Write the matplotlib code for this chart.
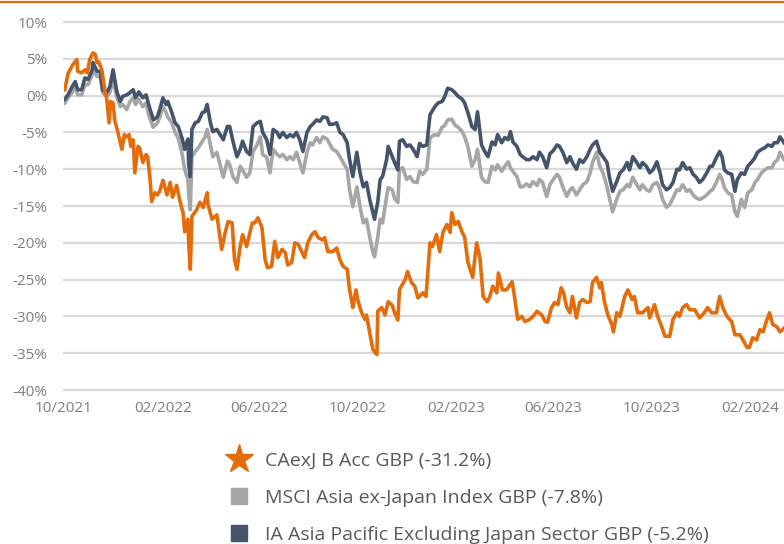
import numpy as np
import pandas as pd
import matplotlib
matplotlib.use("Agg")
import matplotlib.pyplot as plt
import matplotlib.dates as mdates
from matplotlib.lines import Line2D
from matplotlib.ticker import FuncFormatter

plt.rcParams['font.family'] = ['Open Sans', 'DejaVu Sans']

start = pd.Timestamp('2021-10-01')

# fund series (days since start, cumulative % return)
fund_days = [1, 5, 11, 16, 17, 22, 26, 29, 32, 36, 39, 41, 43, 47, 51, 53, 56, 58, 61, 63,
             67, 72, 75, 78, 81, 83, 86, 88, 92, 94, 98, 102, 104, 107, 109, 113, 116, 119, 123, 128,
             132, 135, 140, 144, 148, 150, 154, 155, 157, 159, 165, 169, 173, 178, 179, 184, 190, 196, 200, 204,
             209, 212, 215, 219, 222, 227, 234, 237, 241, 246, 250, 253, 258, 262, 266, 271, 275, 278, 283, 287,
             291, 296, 299, 303, 308, 312, 316, 321, 324, 328, 334, 339, 343, 347, 352, 355, 358, 359, 363, 365,
             370, 374, 376, 380, 384, 389, 390, 395, 399, 403, 408, 411, 415, 417, 424, 427, 432, 436, 440, 446,
             450, 455, 458, 463, 467, 471, 476, 480, 482, 486, 490, 495, 498, 502, 508, 513, 517, 521, 526, 529,
             533, 538, 540, 545, 550, 557, 560, 564, 569, 573, 579, 583, 588, 594, 598, 601, 606, 610, 614, 618,
             621, 625, 629, 632, 637, 641, 645, 650, 654, 657, 662, 666, 668, 672, 676, 681, 683, 687, 691, 697,
             701, 706, 709, 713, 719, 726, 728, 734, 738, 743, 747, 753, 757, 762, 765, 769, 774, 778, 784, 790,
             796, 800, 805, 811, 815, 819, 824, 830, 834, 840, 844, 849, 852, 856, 861, 865, 869, 873, 877, 881,
             886, 890, 895]
fund = [0.8, 3.0, 4.2, 4.9, 3.3, 3.1, 3.5, 3.1, 4.9, 5.8, 5.6, 4.5, 4.6, 3.5, 0.5, -0.3, -3.7, -0.8, -1.0, -3.3,
        -5.0, -7.3, -5.3, -5.6, -5.3, -6.9, -6.0, -10.5, -6.9, -7.1, -9.1, -8.0, -8.3, -11.4, -14.4, -13.2, -13.5, -13.0, -11.5, -13.5,
        -11.8, -13.8, -12.2, -14.3, -15.9, -18.5, -16.8, -20.0, -23.6, -16.4, -15.5, -14.5, -15.2, -13.2, -14.8, -16.8, -16.2, -20.9, -18.8, -17.1,
        -17.3, -22.3, -23.6, -20.5, -18.9, -20.5, -17.3, -17.3, -16.6, -17.9, -22.3, -23.4, -23.2, -19.8, -22.0, -20.9, -21.3, -23.0, -22.7, -20.0,
        -20.2, -21.3, -22.0, -20.0, -18.9, -18.5, -19.3, -19.6, -19.3, -21.2, -21.2, -20.7, -22.3, -23.2, -23.6, -26.4, -28.1, -28.8, -26.4, -27.7,
        -29.5, -30.4, -29.8, -32.2, -34.5, -35.2, -29.3, -28.8, -29.8, -28.0, -28.5, -29.5, -30.5, -26.4, -25.0, -23.9, -25.4, -25.9, -27.5, -26.8,
        -27.3, -20.0, -20.5, -18.9, -21.2, -18.6, -17.5, -18.6, -15.9, -17.5, -17.1, -18.6, -19.2, -22.6, -24.7, -20.0, -22.0, -27.3, -28.0, -27.4,
        -25.9, -26.8, -24.1, -26.4, -26.4, -25.3, -27.3, -30.4, -30.0, -30.7, -30.4, -30.0, -29.3, -29.8, -30.7, -30.8, -28.8, -28.1, -28.4, -26.1,
        -26.8, -28.8, -29.5, -27.3, -30.2, -28.1, -27.7, -28.1, -28.0, -25.4, -24.7, -26.1, -25.4, -28.1, -29.8, -31.1, -32.1, -29.5, -30.0, -27.3,
        -26.4, -27.7, -27.3, -29.5, -29.5, -28.8, -30.2, -28.4, -30.0, -31.4, -32.7, -32.7, -30.4, -29.5, -30.0, -28.8, -28.4, -29.1, -29.1, -30.2,
        -29.5, -28.8, -29.5, -29.5, -27.3, -28.8, -30.0, -30.7, -32.5, -32.5, -33.2, -34.2, -34.2, -32.9, -33.2, -31.8, -32.1, -30.7, -29.5, -31.1,
        -31.4, -32.1, -31.6]

# index and sector series share these dates
bench_days = [1, 5, 10, 14, 17, 22, 26, 30, 35, 36, 41, 45, 48, 53, 57, 61, 63, 66, 70, 73,
              78, 82, 86, 89, 93, 98, 102, 106, 111, 116, 119, 123, 127, 129, 134, 138, 142, 147, 150, 154,
              155, 157, 159, 163, 167, 172, 175, 178, 182, 185, 190, 194, 198, 203, 206, 210, 215, 219, 222, 227,
              231, 235, 240, 244, 247, 252, 256, 260, 265, 268, 272, 277, 281, 285, 289, 293, 297, 302, 306, 309,
              314, 318, 322, 327, 330, 334, 339, 343, 347, 352, 355, 359, 364, 368, 372, 376, 380, 384, 386, 390,
              393, 396, 401, 403, 408, 411, 415, 417, 421, 426, 430, 434, 439, 442, 446, 451, 455, 461, 465, 470,
              473, 477, 482, 486, 490, 495, 498, 502, 507, 511, 514, 519, 523, 527, 532, 536, 539, 544, 548, 552,
              555, 558, 563, 567, 570, 575, 579, 583, 588, 591, 595, 600, 604, 608, 613, 616, 620, 625, 629, 632,
              637, 641, 645, 650, 654, 657, 662, 666, 670, 675, 678, 682, 687, 691, 695, 700, 703, 707, 712, 716,
              719, 724, 728, 732, 737, 741, 744, 749, 753, 757, 762, 765, 769, 774, 778, 782, 786, 790, 794, 799,
              803, 806, 811, 815, 818, 821, 825, 830, 834, 837, 842, 846, 850, 855, 859, 862, 867, 871, 875, 880,
              883, 887, 890, 895]
sector = [-0.5, 0.1, 1.2, 1.9, 0.8, 0.8, 2.4, 2.2, 3.5, 4.5, 3.3, 3.3, 0.8, 0.4, 1.2, 3.5, 2.2, 0.4, -0.8, -0.1,
          0.1, 0.4, 0.8, -0.3, 0.5, -0.3, 0.1, -1.5, -3.3, -2.9, -1.9, -0.3, -1.2, -0.8, -2.3, -3.7, -4.2, -5.9, -7.3, -5.9,
          -9.4, -11.0, -4.6, -3.7, -3.5, -2.3, -2.2, -1.2, -3.7, -4.9, -4.6, -5.3, -6.0, -4.2, -4.2, -6.2, -8.3, -7.3, -6.2, -7.6,
          -8.0, -4.2, -3.7, -3.5, -5.0, -6.0, -8.0, -4.6, -5.0, -5.7, -5.0, -5.7, -5.3, -5.6, -5.0, -6.0, -7.6, -5.0, -4.2, -3.9,
          -3.3, -3.5, -2.9, -3.0, -3.9, -3.9, -3.7, -5.0, -5.3, -6.4, -8.7, -11.0, -7.7, -10.5, -12.4, -11.8, -14.1, -15.9, -16.8, -14.5,
          -11.4, -11.0, -8.7, -6.9, -8.3, -9.1, -10.1, -6.2, -6.0, -6.9, -6.7, -7.3, -8.3, -6.5, -6.9, -6.7, -2.6, -1.5, -1.0, -0.8,
          -0.2, 1.0, 0.8, 0.4, -0.1, -0.5, -1.0, -2.3, -4.2, -4.6, -2.2, -6.7, -7.6, -8.3, -6.3, -6.7, -5.3, -6.4, -5.7, -6.0,
          -4.9, -6.3, -6.9, -8.0, -8.3, -8.7, -8.7, -8.3, -8.7, -7.7, -8.3, -9.8, -7.9, -7.5, -6.7, -6.9, -7.7, -9.1, -8.3, -9.1,
          -10.0, -8.7, -9.1, -8.3, -7.3, -6.7, -6.2, -7.7, -8.3, -9.1, -11.1, -13.0, -11.7, -10.5, -10.1, -9.1, -10.1, -8.3, -9.1, -9.8,
          -9.1, -9.6, -10.5, -10.1, -9.0, -10.5, -12.1, -12.8, -12.5, -11.8, -10.0, -10.1, -9.1, -10.0, -9.8, -10.7, -11.1, -11.8, -11.4, -10.5,
          -9.6, -9.6, -8.4, -7.6, -8.3, -10.1, -10.5, -10.7, -13.0, -11.4, -10.5, -10.7, -9.6, -9.0, -8.4, -7.7, -7.3, -7.1, -6.7, -6.9,
          -6.4, -6.4, -5.6, -6.4]
index = [-1.0, -0.3, 0.4, 1.2, 0.1, 0.1, 1.5, 1.5, 2.8, 3.8, 2.6, 2.6, 0.4, -0.1, 0.4, 2.2, 1.1, -0.3, -1.5, -1.2,
         -1.9, -0.8, -0.3, -1.2, -0.5, -1.5, -1.0, -2.9, -4.3, -3.7, -3.0, -1.5, -2.3, -2.9, -3.7, -5.0, -5.8, -8.0, -10.0, -11.4,
         -13.5, -15.5, -8.3, -7.6, -7.1, -6.2, -5.7, -4.6, -6.7, -8.3, -7.7, -9.4, -11.1, -8.9, -9.4, -11.0, -11.8, -9.6, -10.1, -11.1,
         -10.5, -7.6, -6.7, -5.6, -8.0, -8.4, -10.5, -7.3, -8.0, -8.3, -8.0, -8.7, -8.3, -8.7, -7.7, -9.1, -10.5, -7.7, -6.4, -6.7,
         -5.7, -6.4, -5.6, -5.9, -6.5, -7.3, -7.6, -8.3, -9.1, -10.0, -12.8, -15.1, -12.4, -15.1, -17.3, -16.8, -19.2, -21.3, -21.9, -19.2,
         -16.8, -17.3, -13.7, -12.5, -12.8, -14.0, -14.5, -10.0, -9.8, -11.4, -11.0, -11.7, -11.8, -10.3, -10.7, -10.0, -5.7, -5.3, -5.4, -4.3,
         -4.1, -3.3, -3.2, -4.0, -4.3, -4.9, -5.6, -6.9, -9.6, -8.7, -7.3, -11.1, -11.7, -11.8, -9.6, -10.1, -9.4, -10.3, -9.6, -9.0,
         -9.8, -10.3, -11.0, -12.4, -12.4, -12.0, -12.4, -11.7, -12.2, -11.4, -11.8, -13.7, -12.1, -11.4, -10.7, -11.1, -12.4, -13.7, -12.8, -12.5,
         -13.5, -12.8, -12.1, -11.7, -10.5, -9.1, -7.7, -9.6, -10.5, -12.4, -13.9, -15.8, -14.1, -13.0, -12.8, -12.1, -12.4, -11.1, -12.1, -12.8,
         -12.1, -12.8, -13.0, -12.1, -11.8, -12.8, -14.1, -15.2, -14.8, -13.9, -12.8, -12.9, -12.1, -13.0, -12.8, -13.5, -13.9, -14.1, -13.9, -13.5,
         -13.0, -12.8, -11.8, -10.7, -11.4, -12.5, -13.2, -13.5, -15.8, -16.4, -14.1, -15.2, -13.2, -12.8, -11.8, -11.4, -10.5, -10.1, -9.8, -9.8,
         -9.1, -8.7, -7.7, -8.7]

labels = ['CAexJ B Acc GBP (-31.2%)',
          'MSCI Asia ex-Japan Index GBP (-7.8%)',
          'IA Asia Pacific Excluding Japan Sector GBP (-5.2%)']
yticks = [-40, -35, -30, -25, -20, -15, -10, -5, 0, 5, 10]
xticks = ['2021-10-01', '2022-02-01', '2022-06-01', '2022-10-01',
          '2023-02-01', '2023-06-01', '2023-10-01', '2024-02-01']

c_fund = '#E46C0A'
c_index = '#A6A6A6'
c_sector = '#44546A'
c_text = '#7F7F7F'

fund_dates = start + pd.to_timedelta(fund_days, unit='D')
bench_dates = start + pd.to_timedelta(bench_days, unit='D')

fig = plt.figure(figsize=(7.84, 5.44), dpi=100)
ax = fig.add_axes([64 / 784, 1 - 390 / 544, 1 - 64 / 784, (390 - 22) / 544])

ax.plot(bench_dates, index, color=c_index, lw=2.6, zorder=3)
ax.plot(bench_dates, sector, color=c_sector, lw=2.6, zorder=4)
ax.plot(fund_dates, fund, color=c_fund, lw=2.6, zorder=5)

ax.set_ylim(-40, 10)
ax.set_xlim(start, start + pd.Timedelta(days=895))
ax.set_yticks(yticks)
ax.yaxis.set_major_formatter(FuncFormatter(lambda v, p: f"{int(v)}%"))
ax.set_xticks(pd.to_datetime(xticks))
ax.xaxis.set_major_formatter(mdates.DateFormatter('%m/%Y'))
ax.grid(axis='y', color='#D9D9D9', lw=1.6)
ax.set_axisbelow(True)
for s in ax.spines.values():
    s.set_visible(False)
ax.tick_params(length=0, labelsize=11, labelcolor=c_text)
ax.tick_params(axis='y', pad=12)
ax.tick_params(axis='x', pad=8)
for gl in ax.get_ygridlines():
    gl.set_clip_on(False)

# orange rule along the top
fig.add_artist(Line2D([0, 1], [1 - 1.5 / 544, 1 - 1.5 / 544], color=c_fund, lw=1.6))

handles = [
    Line2D([], [], ls='none', marker='*', markersize=21, color=c_fund),
    Line2D([], [], ls='none', marker='s', markersize=12, color=c_index),
    Line2D([], [], ls='none', marker='s', markersize=12, color=c_sector),
]
fig.legend(handles, labels, loc='upper left', bbox_to_anchor=(216 / 784, 1 - 444 / 544),
           frameon=False, fontsize=14, labelcolor='#595959', handletextpad=0.5,
           labelspacing=0.98, borderaxespad=0, handlelength=1.6)

fig.savefig('out.png', dpi=100)
